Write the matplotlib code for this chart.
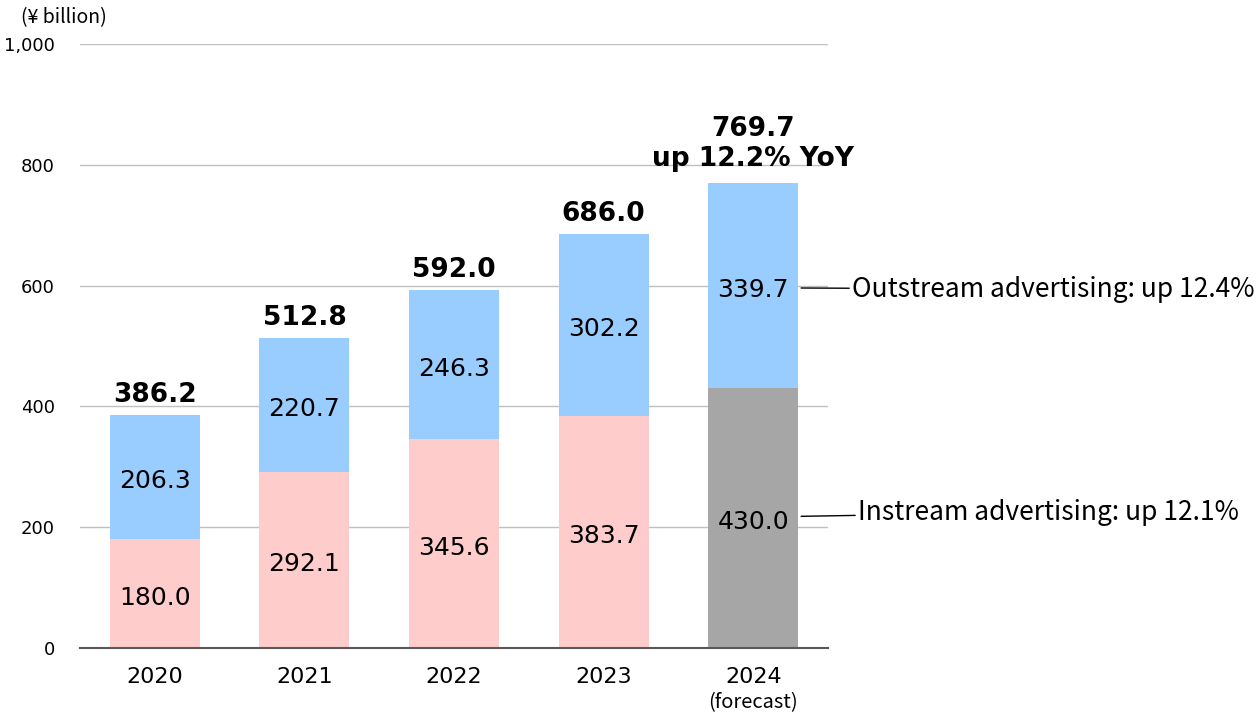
import matplotlib
matplotlib.use("Agg")
from matplotlib import pyplot as plt

# data (¥ billion)
years = ['2020', '2021', '2022', '2023', '2024']
instream = [180.0, 292.1, 345.6, 383.7, 430.0]
outstream = [206.3, 220.7, 246.3, 302.2, 339.7]
totals = [386.2, 512.8, 592.0, 686.0, 769.7]
yticks = [0, 200, 400, 600, 800, 1000]
ytick_labels = ['0', '200', '400', '600', '800', '1,000']

pink = '#FFCCCC'
blue = '#99CCFF'
gray = '#A6A6A6'
txt_font = ['Noto Sans CJK JP', 'DejaVu Sans']

fig = plt.figure(figsize=(12.59, 7.15), dpi=100)
ax = fig.add_axes([0.0635, 0.0937, 0.5942, 0.8448])

x = list(range(len(years)))
in_colors = [pink] * 4 + [gray]
ax.bar(x, instream, width=0.6, color=in_colors, zorder=2)
ax.bar(x, outstream, width=0.6, bottom=instream, color=blue, zorder=2)

# segment labels
for i in x:
    ax.text(i, instream[i] / 2 - 7, f'{instream[i]:.1f}', ha='center', va='center',
            fontsize=18, color='black', zorder=3)
    ax.text(i, instream[i] + outstream[i] / 2 - 7, f'{outstream[i]:.1f}', ha='center',
            va='center', fontsize=18, color='black', zorder=3)

# totals
for i in x[:-1]:
    ax.annotate(f'{totals[i]:.1f}', (i, totals[i]), xytext=(0, 5),
                textcoords='offset points', ha='center', va='bottom',
                fontsize=19, fontweight='bold')
ax.annotate(f'{totals[4]:.1f}\nup 12.2% YoY', (4, totals[4]), xytext=(0, 8),
            textcoords='offset points', ha='center', va='bottom',
            fontsize=19, fontweight='bold', linespacing=1.2, multialignment='center')

# callouts
ax.annotate('Outstream advertising: up 12.4%', xy=(4.32, 596), xytext=(4.66, 594),
            ha='left', va='center', fontsize=19, family=txt_font,
            arrowprops=dict(arrowstyle='-', color='black', lw=1,
                            shrinkA=0, shrinkB=0),
            annotation_clip=False)
ax.annotate('Instream advertising: up 12.1%', xy=(4.32, 218), xytext=(4.7, 225),
            ha='left', va='center', fontsize=19, family=txt_font,
            arrowprops=dict(arrowstyle='-', color='black', lw=1,
                            shrinkA=0, shrinkB=0),
            annotation_clip=False)

ax.set_xlim(-0.5, 4.5)
ax.set_ylim(0, 1000)
ax.set_yticks(yticks)
ax.set_yticklabels(ytick_labels, fontsize=13)
ax.set_xticks(x)
ax.set_xticklabels(years, fontsize=16)
ax.tick_params(axis='y', length=0, pad=18)
ax.tick_params(axis='x', length=0, pad=14)
ax.yaxis.grid(True, color='#C0C0C0', lw=1, zorder=0)
ax.set_axisbelow(True)
for s in ['top', 'right', 'left']:
    ax.spines[s].set_visible(False)
ax.spines['bottom'].set_color('#595959')
ax.spines['bottom'].set_linewidth(1.5)
ax.spines['bottom'].set_zorder(4)

ax.text(4, -91, '(forecast)', ha='center', va='center', fontsize=14.5,
        family=txt_font, clip_on=False)
fig.text(0.0508, 0.975, '(¥ billion)', ha='center', va='center', fontsize=14, family=txt_font)

fig.savefig('out.png', dpi=100)
